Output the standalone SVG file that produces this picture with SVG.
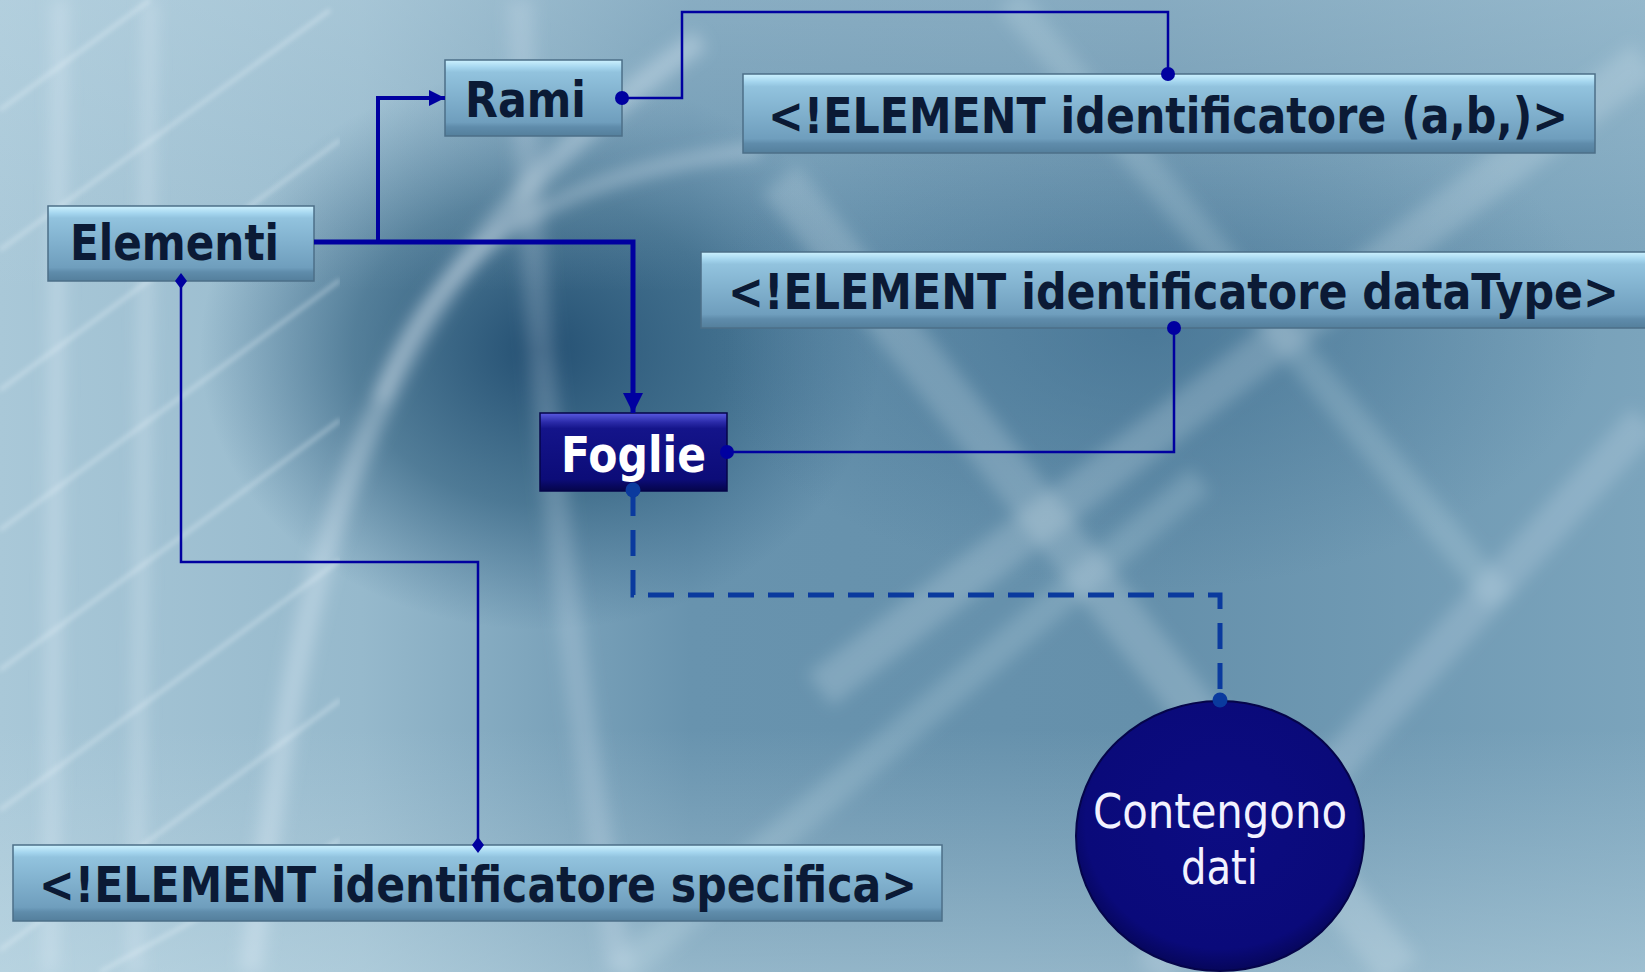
<svg xmlns="http://www.w3.org/2000/svg" width="1645" height="972" viewBox="0 0 1645 972">
<defs>
<linearGradient id="bgH" x1="0" y1="0" x2="1" y2="0">
<stop offset="0" stop-color="#a9c8d8"/><stop offset="0.22" stop-color="#96b9cc"/><stop offset="0.42" stop-color="#6893ae"/><stop offset="0.7" stop-color="#6590ab"/><stop offset="1" stop-color="#7ba4bc"/>
</linearGradient>
<radialGradient id="darkC" cx="0.5" cy="0.5" r="0.5">
<stop offset="0" stop-color="#1a466a" stop-opacity="0.9"/><stop offset="0.55" stop-color="#285878" stop-opacity="0.6"/><stop offset="1" stop-color="#2c5c80" stop-opacity="0"/>
</radialGradient>
<radialGradient id="darkR" cx="0.5" cy="0.5" r="0.5">
<stop offset="0" stop-color="#3a6a8c" stop-opacity="0.6"/><stop offset="1" stop-color="#3a6a8c" stop-opacity="0"/>
</radialGradient>
<linearGradient id="bgV" x1="0" y1="0" x2="0" y2="1">
<stop offset="0" stop-color="#c4dce8" stop-opacity="0.35"/><stop offset="0.3" stop-color="#c4dce8" stop-opacity="0"/><stop offset="0.75" stop-color="#c4dce8" stop-opacity="0"/><stop offset="1" stop-color="#c8e0ea" stop-opacity="0.45"/>
</linearGradient>
<linearGradient id="boxG" x1="0" y1="0" x2="0" y2="1">
<stop offset="0" stop-color="#cdf2ff"/><stop offset="0.1" stop-color="#a4d5ee"/><stop offset="0.16" stop-color="#92c3de"/><stop offset="0.82" stop-color="#6f9ebd"/><stop offset="0.88" stop-color="#5f8cab"/><stop offset="1" stop-color="#547f9c"/>
</linearGradient>
<linearGradient id="fogG" x1="0" y1="0" x2="0" y2="1">
<stop offset="0" stop-color="#5a5ae0"/><stop offset="0.12" stop-color="#2a2aa8"/><stop offset="0.2" stop-color="#14148a"/><stop offset="0.85" stop-color="#0c0c78"/><stop offset="1" stop-color="#05054a"/>
</linearGradient>
<radialGradient id="cirG" cx="0.5" cy="0.45" r="0.55">
<stop offset="0" stop-color="#0c0c82"/><stop offset="0.85" stop-color="#0a0a7a"/><stop offset="1" stop-color="#06065a"/>
</radialGradient>
<filter id="blur8" x="-20%" y="-20%" width="140%" height="140%"><feGaussianBlur stdDeviation="8"/></filter>
<filter id="blur3" x="-20%" y="-20%" width="140%" height="140%"><feGaussianBlur stdDeviation="2.5"/></filter>
<clipPath id="leftClip"><rect x="0" y="0" width="340" height="972"/></clipPath>
<marker id="arrow" viewBox="0 0 10 10" refX="10" refY="5" markerWidth="4" markerHeight="4" orient="auto" markerUnits="strokeWidth">
<path d="M0,0 L10,5 L0,10 Z" fill="#0000a0"/>
</marker>
<style>
.box{fill:url(#boxG);stroke:#4c6f88;stroke-width:1.5}
.lbl{font-family:"DejaVu Sans","Liberation Sans",sans-serif;font-weight:bold;font-size:49px;fill:#0b1a35}
.wlbl{font-family:"DejaVu Sans","Liberation Sans",sans-serif;font-size:48px;fill:#f2f2ff}
.conn{fill:none;stroke:#0000a0}
.thin{stroke-width:2.5}
.dash{fill:none;stroke:#0a3a9e;stroke-width:5;stroke-dasharray:26,14}
.dot{fill:#0000a0}
.ddot{fill:#0a3a9e}
</style>
</defs>

<g id="background">
<rect x="0" y="0" width="1645" height="972" fill="url(#bgH)"/>
<ellipse cx="540" cy="350" rx="340" ry="280" fill="url(#darkC)"/>
<ellipse cx="1150" cy="330" rx="450" ry="260" fill="url(#darkR)"/>
<rect x="0" y="0" width="1645" height="972" fill="url(#bgV)"/>
<g filter="url(#blur8)" fill="none" stroke="#e4f2f8" stroke-opacity="0.35">
<path d="M60,0 L50,972" stroke-width="14"/>
<path d="M150,0 L135,972" stroke-width="12"/>
<path d="M250,972 C300,600 330,300 700,40" stroke-width="22"/>
<path d="M380,400 C430,250 560,170 760,150" stroke-width="14"/>
<path d="M520,0 C530,300 560,600 620,972" stroke-width="26" stroke-opacity="0.2"/>
<path d="M1645,60 L820,690" stroke-width="40" stroke-opacity="0.22"/>
<path d="M780,180 L1400,972" stroke-width="44" stroke-opacity="0.22"/>
<path d="M1010,0 L1500,600" stroke-width="30" stroke-opacity="0.18"/>
<path d="M1645,420 L1150,972" stroke-width="36" stroke-opacity="0.2"/>
<path d="M620,972 L1200,480" stroke-width="30" stroke-opacity="0.18"/>
</g>
<g clip-path="url(#leftClip)" stroke="#f0f8fc" stroke-opacity="0.45" stroke-width="3" filter="url(#blur3)">
<line x1="0" y1="110" x2="150" y2="0"/>
<line x1="0" y1="250" x2="330" y2="10"/>
<line x1="0" y1="390" x2="340" y2="140"/>
<line x1="0" y1="530" x2="340" y2="280"/>
<line x1="0" y1="670" x2="340" y2="420"/>
<line x1="0" y1="810" x2="340" y2="560"/>
<line x1="0" y1="950" x2="340" y2="700"/>
<line x1="100" y1="972" x2="340" y2="840"/>
</g>
</g>

<g id="node-rami">
<rect class="box" x="445" y="60" width="177" height="76"/>
<text class="lbl" transform="scale(0.75,1)" x="620" y="117" textLength="161.3" lengthAdjust="spacingAndGlyphs">Rami</text>
</g>
<g id="node-elementi">
<rect class="box" x="48" y="206" width="266" height="75"/>
<text class="lbl" transform="scale(0.75,1)" x="93.3" y="260" textLength="278.7" lengthAdjust="spacingAndGlyphs">Elementi</text>
</g>
<g id="node-element-ab">
<rect class="box" x="743" y="74" width="852" height="79"/>
<text class="lbl" transform="scale(0.75,1)" x="1024" y="133" textLength="1066.7" lengthAdjust="spacingAndGlyphs">&lt;!ELEMENT identificatore (a,b,)&gt;</text>
</g>
<g id="node-element-datatype">
<rect class="box" x="701" y="252" width="950" height="76"/>
<text class="lbl" transform="scale(0.75,1)" x="970.7" y="309" textLength="1188" lengthAdjust="spacingAndGlyphs">&lt;!ELEMENT identificatore dataType&gt;</text>
</g>
<g id="node-foglie">
<rect x="540" y="413" width="187" height="78" fill="url(#fogG)" stroke="#05054a" stroke-width="1.5"/>
<text class="lbl" transform="scale(0.75,1)" x="748" y="472" textLength="193.3" lengthAdjust="spacingAndGlyphs" style="fill:#ffffff">Foglie</text>
</g>
<g id="node-element-specifica">
<rect class="box" x="13" y="845" width="929" height="76"/>
<text class="lbl" transform="scale(0.75,1)" x="52" y="902" textLength="1170.7" lengthAdjust="spacingAndGlyphs">&lt;!ELEMENT identificatore specifica&gt;</text>
</g>
<g id="node-contengono">
<ellipse cx="1220" cy="836" rx="144" ry="135" fill="url(#cirG)" stroke="#05054a" stroke-width="2"/>
<text class="wlbl" x="1093" y="828" textLength="254" lengthAdjust="spacingAndGlyphs">Contengono</text>
<text class="wlbl" x="1181" y="884" textLength="77" lengthAdjust="spacingAndGlyphs">dati</text>
</g>

<g id="connectors">
<polyline class="conn" points="314,242 633,242 633,413" stroke-width="5" marker-end="url(#arrow)"/>
<polyline class="conn" points="378,242 378,98 445,98" stroke-width="4" marker-end="url(#arrow)"/>
<polyline class="conn thin" points="622,98 682,98 682,12 1168,12 1168,74"/>
<polyline class="conn thin" points="727,452 1174,452 1174,328"/>
<polyline class="conn thin" points="181,281 181,562 478,562 478,845"/>
<polyline class="dash" points="633,490 633,595 1220,595 1220,700"/>
<circle class="dot" cx="622" cy="98" r="7"/>
<circle class="dot" cx="1168" cy="74" r="7"/>
<circle class="dot" cx="1174" cy="328" r="7"/>
<circle class="dot" cx="727" cy="452" r="7"/>
<circle class="ddot" cx="633" cy="490" r="7.5"/>
<circle class="ddot" cx="1220" cy="700" r="7.5"/>
<path class="dot" d="M181,273 L187,281 L181,289 L175,281 Z"/>
<path class="dot" d="M478,837 L484,845 L478,853 L472,845 Z"/>
</g>
</svg>
